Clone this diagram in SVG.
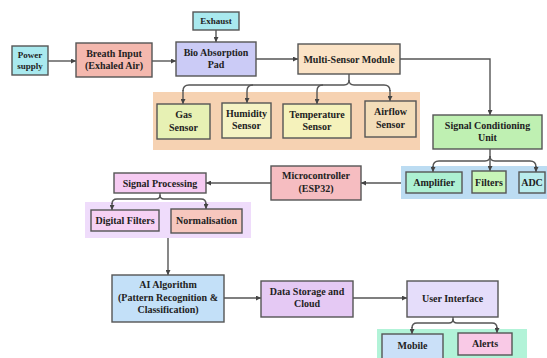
<svg xmlns="http://www.w3.org/2000/svg" width="547" height="358" viewBox="0 0 547 358">
<defs>
<marker id="arr" viewBox="0 0 6 6" refX="6" refY="3" markerWidth="5" markerHeight="5" markerUnits="userSpaceOnUse" orient="auto">
<path d="M0,0 L6,3 L0,6 z" fill="#444"/>
</marker>
<style>
.b{stroke:#555;stroke-width:1.4}
.p{stroke:none}
text{font-family:"Liberation Serif","Times New Roman",serif;font-weight:bold;font-size:10px;fill:#222;text-anchor:middle;dominant-baseline:central}
.s{font-size:9px}
.c{fill:none;stroke:#555;stroke-width:1.4}
.a{marker-end:url(#arr)}
</style>
</defs>
<rect width="547" height="358" fill="#fff"/>
<g id="panels">
<rect class="p" x="153" y="92" width="267" height="58" fill="#f6d2b2"/>
<rect class="p" x="401" y="166" width="146" height="33" fill="#bcdcf2"/>
<rect class="p" x="85" y="202" width="166" height="36" fill="#efdcfb"/>
<rect class="p" x="377" y="329" width="150" height="29" fill="#b2f3d8"/>
</g>
<g id="connectors">
<path class="c a" d="M48,61 H76"/>
<path class="c a" d="M152,61 H176"/>
<path class="c a" d="M216,30 V42"/>
<path class="c a" d="M256,59 H298"/>
<path class="c a" d="M400,59 H490 V115"/>
<path class="c" d="M349,74 V80 Q349,85 344,85 H189 Q183,85 183,91"/>
<path class="c a" d="M183,90 V104"/>
<path class="c a" d="M253,85 Q247,85 247,91 V103"/>
<path class="c a" d="M323,85 Q317,85 317,91 V104"/>
<path class="c" d="M349,80 Q349,85 354,85 H384 Q390,85 390,91"/>
<path class="c a" d="M390,90 V101"/>
<path class="c" d="M490,149 V156 Q490,161 485,161 H439 Q433,161 433,167"/>
<path class="c" d="M490,156 Q490,161 495,161 H530 Q536,161 536,167"/>
<path class="c a" d="M433,166 V172"/>
<path class="c a" d="M490,156 V171"/>
<path class="c a" d="M536,166 V172"/>
<path class="c a" d="M401,183 H361"/>
<path class="c a" d="M271,183 H206"/>
<path class="c" d="M160,193 V195 Q160,199 156,199 H117 Q112,199 112,204"/>
<path class="c" d="M160,195 Q160,199 164,199 H201 Q206,199 206,204"/>
<path class="c a" d="M112,203 V210"/>
<path class="c a" d="M206,203 V209"/>
<path class="c a" d="M168,238 V275"/>
<path class="c a" d="M224,298 H261"/>
<path class="c a" d="M353,298 H407"/>
<path class="c" d="M453,317 V319 Q453,323 449,323 H417 Q412,323 412,328"/>
<path class="c" d="M453,319 Q453,323 457,323 H492 Q497,323 497,328"/>
<path class="c a" d="M412,327 V334"/>
<path class="c a" d="M497,327 V333"/>
</g>
<g id="power"><rect class="b" x="12" y="46" width="36" height="29" fill="#a9e9ee"/><text class="s" x="30" y="54.5">Power</text><text class="s" x="30" y="66">supply</text></g>
<g id="breath"><rect class="b" x="76" y="43" width="76" height="34" fill="#f4b8ae"/><text x="114" y="53.5">Breath Input</text><text x="114" y="65.5">(Exhaled Air)</text></g>
<g id="exhaust"><rect class="b" x="193" y="12" width="46" height="18" fill="#a9e9ee"/><text class="s" x="216" y="21">Exhaust</text></g>
<g id="bio"><rect class="b" x="176" y="42" width="80" height="34" fill="#cbcbf6"/><text x="216" y="52">Bio Absorption</text><text x="216" y="64">Pad</text></g>
<g id="multi"><rect class="b" x="298" y="44" width="102" height="30" fill="#fbe3c6"/><text x="349" y="59">Multi-Sensor Module</text></g>
<g id="gas"><rect class="b" x="157" y="104" width="53" height="35" fill="#e7f1b4"/><text x="183.5" y="114.5">Gas</text><text x="183.5" y="127">Sensor</text></g>
<g id="humidity"><rect class="b" x="222" y="103" width="49" height="35" fill="#f5f3c4"/><text x="246.5" y="113">Humidity</text><text x="246.5" y="125">Sensor</text></g>
<g id="temperature"><rect class="b" x="283" y="104" width="68" height="34" fill="#f5f2bb"/><text x="317" y="114">Temperature</text><text x="317" y="126.5">Sensor</text></g>
<g id="airflow"><rect class="b" x="365" y="101" width="51" height="36" fill="#f3ddb9"/><text x="390.5" y="111">Airflow</text><text x="390.5" y="124">Sensor</text></g>
<g id="signalcond"><rect class="b" x="433" y="115" width="109" height="34" fill="#bff0b2"/><text x="487.5" y="125">Signal Conditioning</text><text x="487.5" y="137">Unit</text></g>
<g id="amplifier"><rect class="b" x="406" y="172" width="56" height="21" fill="#adf0d2"/><text x="434" y="182.5">Amplifier</text></g>
<g id="filters"><rect class="b" x="472" y="171" width="34" height="22" fill="#c8f5b8"/><text x="489" y="182">Filters</text></g>
<g id="adc"><rect class="b" x="519" y="172" width="26" height="21" fill="#b9ecec"/><text x="532" y="182.5">ADC</text></g>
<g id="micro"><rect class="b" x="271" y="166" width="90" height="34" fill="#f6bdc1"/><text x="316" y="175.5">Microcontroller</text><text x="316" y="188">(ESP32)</text></g>
<g id="sigproc"><rect class="b" x="114" y="173" width="92" height="20" fill="#f6cbf2"/><text x="160" y="183">Signal Processing</text></g>
<g id="digfilters"><rect class="b" x="91" y="210" width="68" height="21" fill="#f6d1f4"/><text x="125" y="220.5">Digital Filters</text></g>
<g id="normalisation"><rect class="b" x="171" y="209" width="71" height="24" fill="#f7c7be"/><text x="206.5" y="220.5">Normalisation</text></g>
<g id="ai"><rect class="b" x="112" y="275" width="112" height="47" fill="#c3e0f8"/><text x="168" y="284.5">AI Algorithm</text><text x="168" y="297">(Pattern Recognition &amp;</text><text x="168" y="309.5">Classification)</text></g>
<g id="datastorage"><rect class="b" x="261" y="281" width="92" height="36" fill="#e5c9f4"/><text x="307" y="291.5">Data Storage and</text><text x="307" y="303.5">Cloud</text></g>
<g id="ui"><rect class="b" x="407" y="281" width="91" height="36" fill="#e5ddfa"/><text x="452.5" y="298">User Interface</text></g>
<g id="mobile"><rect class="b" x="382" y="334" width="61" height="26" fill="#cae0f8"/><text x="412.5" y="345">Mobile</text></g>
<g id="alerts"><rect class="b" x="458" y="333" width="54" height="22" fill="#f9c9e6"/><text x="485" y="343.5">Alerts</text></g>
</svg>
